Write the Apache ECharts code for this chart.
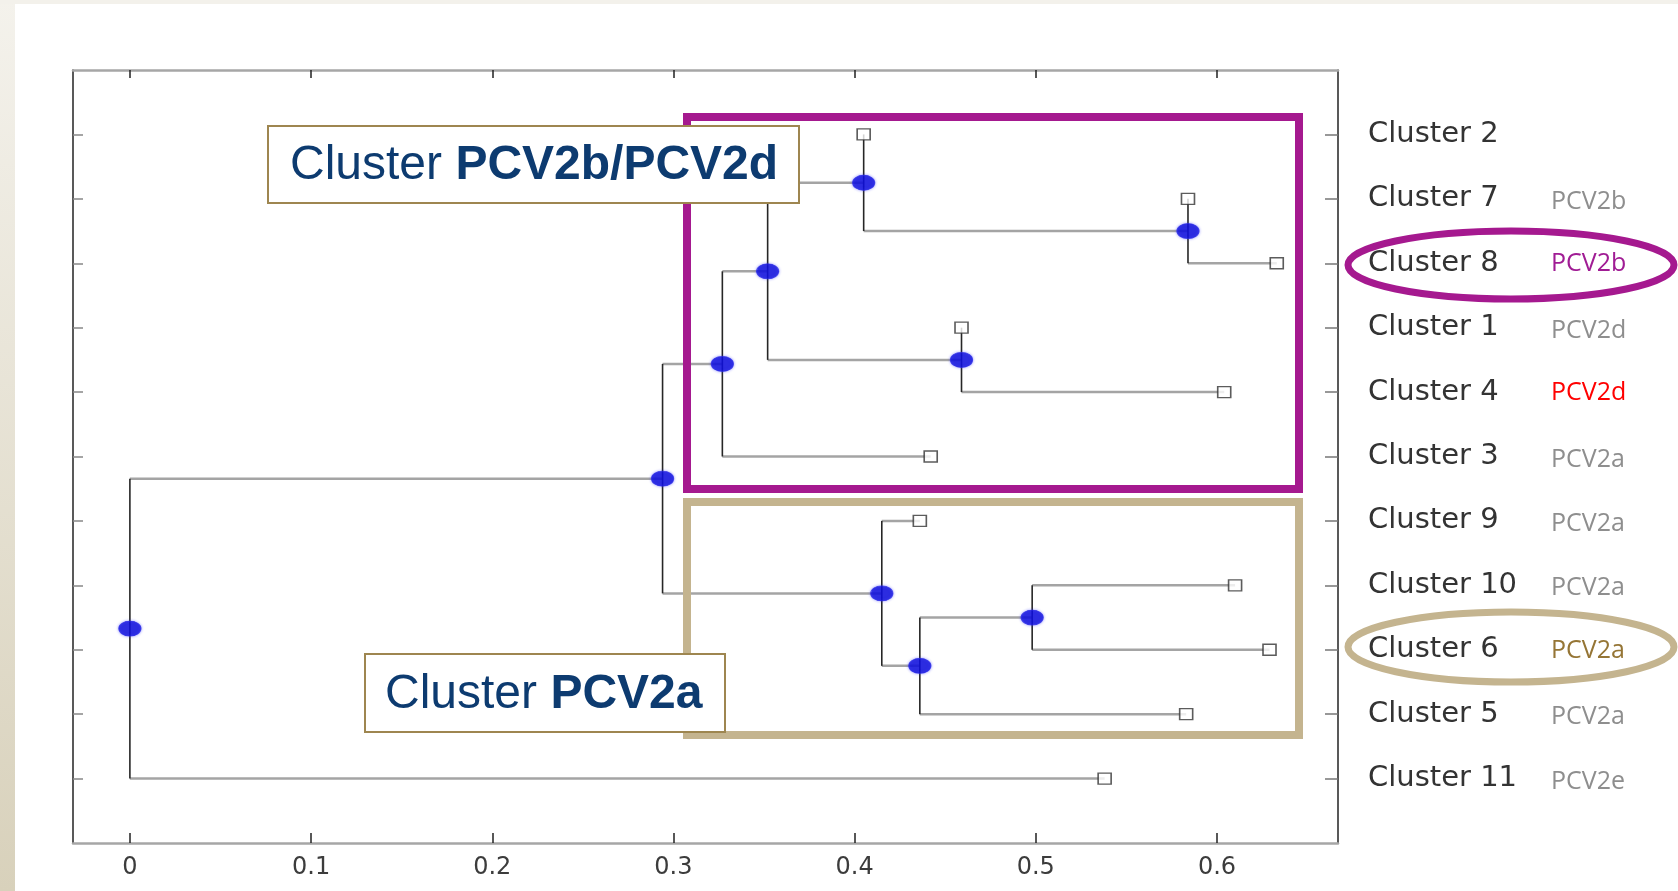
<!DOCTYPE html>
<html>
<head>
<meta charset="utf-8">
<script src="https://cdn.jsdelivr.net/npm/echarts@6/dist/echarts.min.js"></script>
<style>
html,body{margin:0;padding:0;background:#fff;}
#chart{width:1678px;height:891px;}
</style>
</head>
<body>
<div id="chart"></div>
<script>
// ---------- DATA ----------
const leafNames = ['Cluster 2','Cluster 7','Cluster 8','Cluster 1','Cluster 4','Cluster 3','Cluster 9','Cluster 10','Cluster 6','Cluster 5','Cluster 11'];
const leafTypes = ['', 'PCV2b','PCV2b','PCV2d','PCV2d','PCV2a','PCV2a','PCV2a','PCV2a','PCV2a','PCV2e'];
const leafTypeStyle = ['g','g','purple','g','red','g','g','g','gold','g','g'];
const leafHeights = [0.405, 0.584, 0.633, 0.459, 0.604, 0.442, 0.436, 0.610, 0.629, 0.583, 0.538];
// internal nodes (children: L = leaf index, N = node index)
const nodeChildren = [['L1','L2'],['L0','N0'],['L3','L4'],['N1','N2'],['N3','L5'],['L7','L8'],['N5','L9'],['L6','N6'],['N4','N7'],['N8','L10']];
const nodeHeights = [0.584, 0.405, 0.459, 0.352, 0.327, 0.498, 0.436, 0.415, 0.294, 0.000];
const xTicks = [0, 0.1, 0.2, 0.3, 0.4, 0.5, 0.6];
const yTicks = [1,2,3,4,5,6,7,8,9,10,11];

// ---------- LAYOUT (dendrogram geometry from tree) ----------
const leafY = leafNames.map((_, i) => i + 1);
const nodeY = [];
function ref(c) {
  const idx = +c.slice(1);
  return c[0] === 'L' ? {x: leafHeights[idx], y: leafY[idx]} : {x: nodeHeights[idx], y: nodeY[idx]};
}
nodeChildren.forEach((ch, j) => { nodeY[j] = (ref(ch[0]).y + ref(ch[1]).y) / 2; });
const hSegs = [], vSegs = [];
nodeChildren.forEach((ch, j) => {
  const a = ref(ch[0]), b = ref(ch[1]), h = nodeHeights[j];
  vSegs.push([h, a.y, h, b.y]);
  hSegs.push([h, a.y, a.x, a.y]);
  hSegs.push([h, b.y, b.x, b.y]);
});
const nodePts = nodeHeights.map((h, j) => [h, nodeY[j]]);
const leafPts = leafHeights.map((h, i) => [h, leafY[i]]);

function segSeries(data, color, width, z) {
  return {
    type: 'custom', data: data, z: z, silent: true,
    encode: {x: [0, 2], y: [1, 3]},
    renderItem: function (params, api) {
      const p1 = api.coord([api.value(0), api.value(1)]);
      const p2 = api.coord([api.value(2), api.value(3)]);
      return {type: 'line', shape: {x1: p1[0], y1: p1[1], x2: p2[0], y2: p2[1]},
              style: {stroke: color, lineWidth: width}};
    }
  };
}

const chart = echarts.init(document.getElementById('chart'));
const XMIN = -0.0314, XMAX = 0.6668;
const typeRich = {
  c: {fontFamily: 'DejaVu Sans', fontSize: 29, color: '#333', width: 183, align: 'left'},
  g: {fontFamily: 'Open Sans', fontSize: 25, color: '#8e8e8e', padding: [6, 0, 0, 0]},
  purple: {fontFamily: 'Open Sans', fontSize: 25, color: '#a01c94', padding: [2, 0, 0, 0]},
  red: {fontFamily: 'Open Sans', fontSize: 25, color: '#ff0000', padding: [2, 0, 0, 0]},
  gold: {fontFamily: 'Open Sans', fontSize: 25, color: '#957535', padding: [2, 0, 0, 0]}
};
const navy = '#0d3b70';

const option = {
  backgroundColor: '#ffffff',
  animation: false,
  grid: {left: 73, right: 340, top: 70, bottom: 48, show: false},
  xAxis: [
    {type: 'value', position: 'bottom', min: XMIN, max: XMAX,
     axisLine: {show: true, onZero: false, lineStyle: {color: '#a6a6a6', width: 2.5}},
     axisTick: {show: true, inside: true, length: 10, customValues: xTicks, lineStyle: {color: '#222', width: 1.5}},
     axisLabel: {show: true, customValues: xTicks, margin: 13, fontFamily: 'DejaVu Sans', fontSize: 24, color: '#3c3c3c',
                 formatter: v => String(Math.round(v * 10) / 10)},
     splitLine: {show: false}},
    {type: 'value', position: 'top', min: XMIN, max: XMAX,
     axisLine: {show: true, onZero: false, lineStyle: {color: '#a6a6a6', width: 2.5}},
     axisTick: {show: true, inside: true, length: 8, customValues: xTicks, lineStyle: {color: '#222', width: 1.5}},
     axisLabel: {show: false}, splitLine: {show: false}}
  ],
  yAxis: [
    {type: 'value', position: 'left', min: 0, max: 12, inverse: true,
     axisLine: {show: true, onZero: false, lineStyle: {color: '#222', width: 1.5}},
     axisTick: {show: true, inside: true, length: 10, customValues: yTicks, lineStyle: {color: '#888', width: 1.5}},
     axisLabel: {show: false}, splitLine: {show: false}},
    {type: 'value', position: 'right', min: 0, max: 12, inverse: true,
     axisLine: {show: true, onZero: false, lineStyle: {color: '#222', width: 1.5}},
     axisTick: {show: true, inside: true, length: 13, customValues: yTicks, lineStyle: {color: '#777', width: 1.5}},
     axisLabel: {show: true, customValues: yTicks, margin: 30, align: 'left',
       formatter: function (v) {
         const i = Math.round(v) - 1;
         if (i < 0 || i >= leafNames.length) return '';
         let s = '{c|' + leafNames[i] + '}';
         if (leafTypes[i]) s += '{' + leafTypeStyle[i] + '|' + leafTypes[i] + '}';
         return s;
       },
       rich: typeRich},
     splitLine: {show: false}}
  ],
  series: [
    segSeries(hSegs, '#a4a4a4', 2.5, 2),
    segSeries(vSegs, '#262626', 1.6, 3),
    {type: 'scatter', data: nodePts, z: 5, silent: true, symbol: 'circle', symbolSize: [22, 15],
     itemStyle: {color: '#0c0cd8', borderColor: '#2a2ae6', borderWidth: 1, shadowBlur: 3, shadowColor: 'rgba(40,40,255,0.5)'}},
    {type: 'scatter', data: leafPts, z: 5, silent: true, symbol: 'rect', symbolSize: [13, 11],
     itemStyle: {color: '#ffffff', borderColor: '#333', borderWidth: 1.5}}
  ],
  graphic: [
    {type: 'rect', z: 0, silent: true, shape: {x: 0, y: 0, width: 15, height: 891},
     style: {fill: new echarts.graphic.LinearGradient(0, 0, 0, 1, [{offset: 0, color: '#f4f2ec'}, {offset: 1, color: '#d8d1bb'}])}},
    {type: 'rect', z: 0, silent: true, shape: {x: 0, y: 0, width: 1678, height: 4}, style: {fill: '#f3f1eb'}},
    // group boxes
    {type: 'rect', z: 10, silent: true, shape: {x: 687, y: 117, width: 612, height: 372},
     style: {fill: 'none', stroke: '#a5198f', lineWidth: 8}},
    {type: 'rect', z: 10, silent: true, shape: {x: 687, y: 502, width: 612, height: 233},
     style: {fill: 'none', stroke: '#c4b48f', lineWidth: 8}},
    // label boxes
    {type: 'rect', z: 20, silent: true, shape: {x: 268, y: 126, width: 531, height: 77},
     style: {fill: '#ffffff', stroke: '#9e8650', lineWidth: 2}},
    {type: 'text', z: 21, silent: true, x: 290, y: 166,
     style: {text: '{a|Cluster }{b|PCV2b/PCV2d}', fill: navy, verticalAlign: 'middle',
             rich: {a: {fontFamily: 'Liberation Sans', fontSize: 48, fill: navy, color: navy},
                    b: {fontFamily: 'Liberation Sans', fontSize: 48, fontWeight: 'bold', fill: navy, color: navy}}}},
    {type: 'rect', z: 20, silent: true, shape: {x: 365, y: 654, width: 360, height: 78},
     style: {fill: '#ffffff', stroke: '#9e8650', lineWidth: 2}},
    {type: 'text', z: 21, silent: true, x: 385, y: 695,
     style: {text: '{a|Cluster }{b|PCV2a}', fill: navy, verticalAlign: 'middle',
             rich: {a: {fontFamily: 'Liberation Sans', fontSize: 48, fill: navy, color: navy},
                    b: {fontFamily: 'Liberation Sans', fontSize: 48, fontWeight: 'bold', fill: navy, color: navy}}}},
    // highlight ellipses
    {type: 'ellipse', z: 22, silent: true, shape: {cx: 1511, cy: 265, rx: 163, ry: 34},
     style: {fill: 'none', stroke: '#a5198f', lineWidth: 7}},
    {type: 'ellipse', z: 22, silent: true, shape: {cx: 1511, cy: 647, rx: 163, ry: 35},
     style: {fill: 'none', stroke: '#c4b48f', lineWidth: 7}}
  ]
};
chart.setOption(option);
</script>
</body>
</html>
